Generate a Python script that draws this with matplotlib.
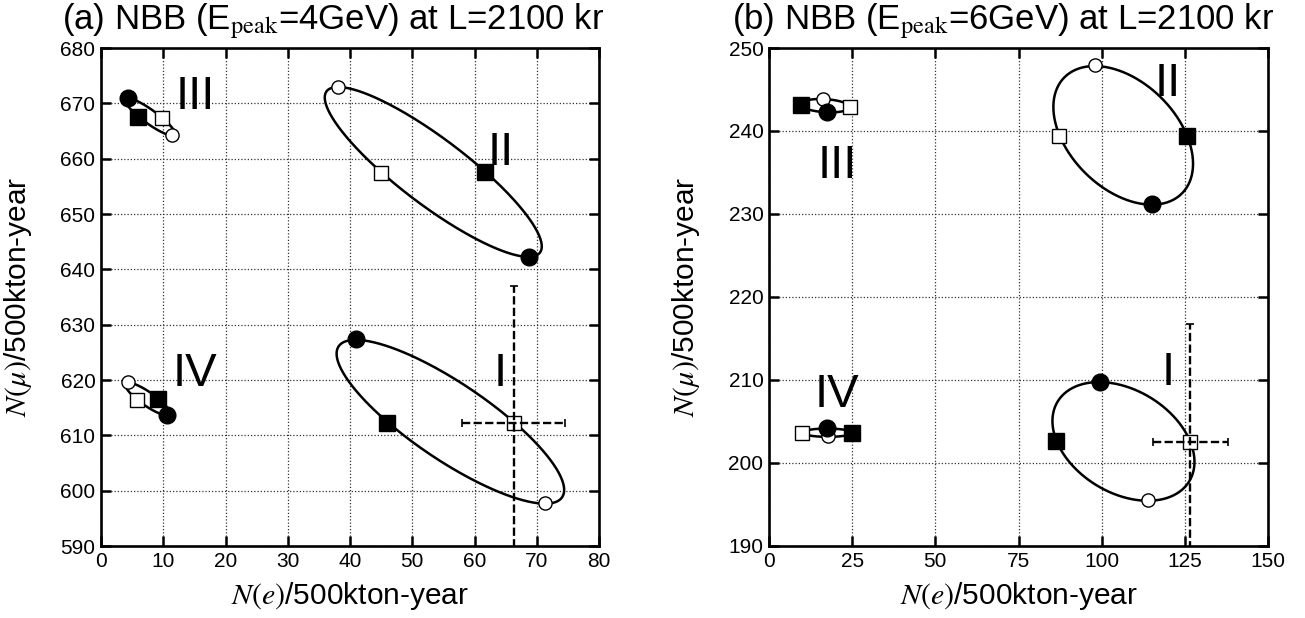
import numpy as np
import matplotlib
matplotlib.use("Agg")
import matplotlib.pyplot as plt
from matplotlib import font_manager

plt.rcParams['font.family'] = ['Liberation Sans', 'DejaVu Sans']
plt.rcParams['mathtext.fontset'] = 'stix'

# Point order in every region: delta=0 (open circle), pi/2 (open square),
# pi (filled circle), 3pi/2 (filled square)
# ---- panel (a): Epeak = 4 GeV ----
a_ne_I = [71.3, 66.3, 40.9, 46.0]
a_nmu_I = [597.8, 612.3, 627.4, 612.3]
a_ne_II = [38.1, 45.0, 68.7, 61.7]
a_nmu_II = [673.0, 657.5, 642.3, 657.6]
a_ne_III = [11.4, 9.8, 4.3, 6.0]
a_nmu_III = [664.2, 667.4, 671.0, 667.6]
a_ne_IV = [4.3, 5.8, 10.6, 9.2]
a_nmu_IV = [619.6, 616.4, 613.7, 616.6]
a_xerr = 8.3
a_yerr = 24.6

# ---- panel (b): Epeak = 6 GeV ----
b_ne_I = [113.8, 126.6, 99.4, 86.4]
b_nmu_I = [195.5, 202.5, 209.8, 202.6]
b_ne_II = [97.9, 87.3, 115.1, 125.6]
b_nmu_II = [247.9, 239.4, 231.2, 239.4]
b_ne_III = [16.2, 24.3, 17.5, 9.6]
b_nmu_III = [243.9, 242.9, 242.3, 243.1]
b_ne_IV = [17.8, 10.0, 17.5, 24.9]
b_nmu_IV = [203.2, 203.6, 204.2, 203.6]
b_xerr = 11.3
b_yerr = 14.3

a_xticks = [0, 10, 20, 30, 40, 50, 60, 70, 80]
a_yticks = [590, 600, 610, 620, 630, 640, 650, 660, 670, 680]
b_xticks = [0, 25, 50, 75, 100, 125, 150]
b_yticks = [190, 200, 210, 220, 230, 240, 250]

a_title = "(a) NBB (E$_{\\mathrm{peak}}$=4GeV) at L=2100 kr"
b_title = "(b) NBB (E$_{\\mathrm{peak}}$=6GeV) at L=2100 kr"
xlab = "$N(e)$/500kton-year"
ylab = "$N(\\mu)$/500kton-year"

installed = {f.name for f in font_manager.fontManager.ttflist}
if 'Liberation Sans Narrow' in installed:
    roman_family = ['Liberation Sans Narrow', 'DejaVu Sans']
    roman_size = 38
else:
    roman_family = ['Liberation Sans', 'DejaVu Sans']
    roman_size = 34

W, H = 1305, 618
fig = plt.figure(figsize=(W / 100, H / 100), dpi=100)
ax1 = fig.add_axes([101 / W, 72 / H, 498 / W, 498 / H])
ax2 = fig.add_axes([769 / W, 72 / H, 499 / W, 498 / H])

t = np.linspace(0, 2 * np.pi, 300)


def region(ax, ne, nmu):
    ne = np.asarray(ne)
    nmu = np.asarray(nmu)
    cx, cy = ne.mean(), nmu.mean()
    ax_, ay_ = (ne[0] - ne[2]) / 2, (nmu[0] - nmu[2]) / 2
    bx_, by_ = (ne[1] - ne[3]) / 2, (nmu[1] - nmu[3]) / 2
    ax.plot(cx + ax_ * np.cos(t) + bx_ * np.sin(t),
            cy + ay_ * np.cos(t) + by_ * np.sin(t),
            color='black', lw=1.8, zorder=3)
    ax.plot(ne[0], nmu[0], 'o', ms=9.5, mfc='white', mec='black', mew=1.0, zorder=4)
    ax.plot(ne[1], nmu[1], 's', ms=9.5, mfc='white', mec='black', mew=1.0, zorder=4)
    ax.plot(ne[2], nmu[2], 'o', ms=12, mfc='black', mec='black', zorder=4)
    ax.plot(ne[3], nmu[3], 's', ms=11, mfc='black', mec='black', zorder=4)


def style(ax, xlim, ylim, xt, yt):
    ax.set_xlim(*xlim)
    ax.set_ylim(*ylim)
    ax.set_xticks(xt)
    ax.set_yticks(yt)
    ax.tick_params(direction='in', top=True, right=True, length=7, width=1.8,
                   labelsize=15, pad=4)
    for s in ax.spines.values():
        s.set_linewidth(1.9)
    ax.grid(True, color='0.2', lw=0.9, ls=(0, (1, 1.6)))
    ax.set_axisbelow(True)
    ax.set_xlabel(xlab, fontsize=21.5)
    ax.set_ylabel(ylab, fontsize=21.5)
    ax.xaxis.set_label_coords(0.5, -0.068)
    ax.yaxis.set_label_coords(-0.134, 0.5)


style(ax1, (0, 80), (590, 680), a_xticks, a_yticks)
style(ax2, (0, 150), (190, 250), b_xticks, b_yticks)

for ne, nmu in [(a_ne_I, a_nmu_I), (a_ne_II, a_nmu_II),
                (a_ne_III, a_nmu_III), (a_ne_IV, a_nmu_IV)]:
    region(ax1, ne, nmu)
for ne, nmu in [(b_ne_I, b_nmu_I), (b_ne_II, b_nmu_II),
                (b_ne_III, b_nmu_III), (b_ne_IV, b_nmu_IV)]:
    region(ax2, ne, nmu)

eb_kw = dict(fmt='none', ecolor='black', elinewidth=1.7, capsize=3,
             capthick=1.2, zorder=5)
for ax, x0, y0, xe, ye in [(ax1, a_ne_I[1], a_nmu_I[1], a_xerr, a_yerr),
                           (ax2, b_ne_I[1], b_nmu_I[1], b_xerr, b_yerr)]:
    eb = ax.errorbar(x0, y0, xerr=xe, yerr=ye, **eb_kw)
    for lc in eb[2]:
        lc.set_linestyle((0, (3.5, 1.4)))

rn_kw = dict(fontsize=roman_size, family=roman_family, ha='center',
             va='baseline', zorder=6)
ax1.text(15.1, 669.0, "III", **rn_kw)
ax1.text(64.2, 658.9, "II", **rn_kw)
ax1.text(15.1, 619.0, "IV", **rn_kw)
ax1.text(64.2, 619.0, "I", **rn_kw)
ax2.text(20.4, 234.3, "III", **rn_kw)
ax2.text(120.0, 244.2, "II", **rn_kw)
ax2.text(20.5, 206.8, "IV", **rn_kw)
ax2.text(120.0, 209.4, "I", **rn_kw)

fig.text(62 / W, 1 - 29 / H, a_title, fontsize=25, ha='left', va='baseline')
fig.text(732 / W, 1 - 29 / H, b_title, fontsize=25, ha='left', va='baseline')

fig.savefig("out.png", dpi=100)
